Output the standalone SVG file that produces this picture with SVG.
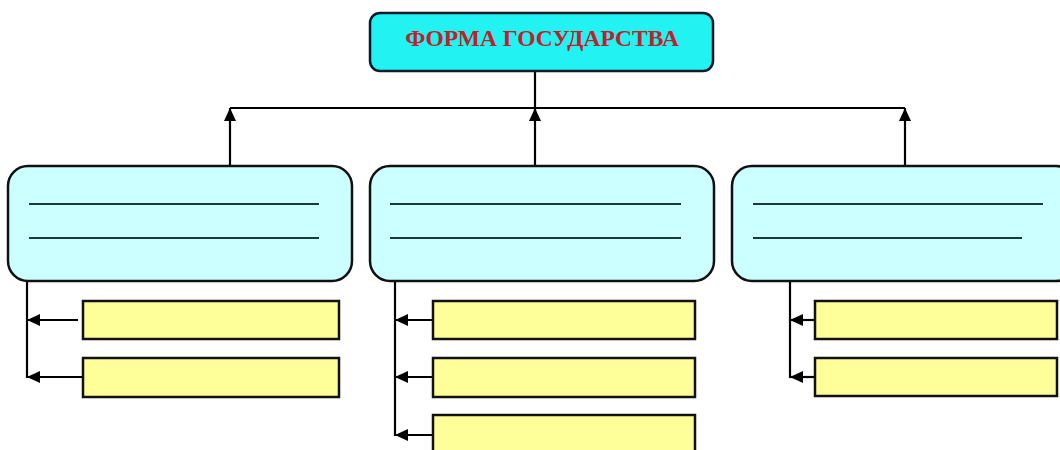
<svg xmlns="http://www.w3.org/2000/svg" width="1060" height="450" viewBox="0 0 1060 450">
<defs>
<marker id="arr" viewBox="0 0 13 12" refX="13" refY="6" markerWidth="13" markerHeight="12" markerUnits="userSpaceOnUse" orient="auto">
<path d="M0,0 L13,6 L0,12 z" fill="#000"/>
</marker>
<style>
.top{fill:#22F2F2;stroke:#0a1a2a;stroke-width:2.5}
.mid{fill:#CCFFFF;stroke:#111;stroke-width:2.5}
.sub{fill:#FFFF99;stroke:#111;stroke-width:2.5}
.rule{stroke:#1a3a3a;stroke-width:2}
.con{stroke:#000;stroke-width:2.2;fill:none}
.title{font-family:"Liberation Serif",serif;font-weight:bold;font-size:23.5px;fill:#C0202A}
</style>
</defs>
<rect width="1060" height="450" fill="#fff"/>
<g id="connectors">
<line class="con" x1="535" y1="71" x2="535" y2="108"/>
<line class="con" x1="230" y1="108" x2="905" y2="108"/>
<line class="con" x1="230" y1="166" x2="230" y2="108" marker-end="url(#arr)"/>
<line class="con" x1="535" y1="166" x2="535" y2="108" marker-end="url(#arr)"/>
<line class="con" x1="905" y1="166" x2="905" y2="108" marker-end="url(#arr)"/>
<line class="con" x1="27" y1="281" x2="27" y2="378"/>
<line class="con" x1="78" y1="320" x2="27" y2="320" marker-end="url(#arr)"/>
<line class="con" x1="83" y1="377" x2="27" y2="377" marker-end="url(#arr)"/>
<line class="con" x1="395" y1="281" x2="395" y2="436"/>
<line class="con" x1="433" y1="320" x2="395" y2="320" marker-end="url(#arr)"/>
<line class="con" x1="433" y1="377" x2="395" y2="377" marker-end="url(#arr)"/>
<line class="con" x1="433" y1="435" x2="395" y2="435" marker-end="url(#arr)"/>
<line class="con" x1="790" y1="281" x2="790" y2="378"/>
<line class="con" x1="815" y1="320" x2="790" y2="320" marker-end="url(#arr)"/>
<line class="con" x1="815" y1="377" x2="790" y2="377" marker-end="url(#arr)"/>
</g>
<g id="root">
<rect class="top" x="370" y="13" width="343" height="58" rx="10"/>
<text class="title" x="542" y="46" text-anchor="middle">ФОРМА ГОСУДАРСТВА</text>
</g>
<g id="mid-left">
<rect class="mid" x="8" y="166" width="344" height="115" rx="20"/>
<line class="rule" x1="29" y1="204" x2="319" y2="204"/>
<line class="rule" x1="29" y1="238" x2="319" y2="238"/>
</g>
<g id="mid-center">
<rect class="mid" x="370" y="166" width="344" height="115" rx="20"/>
<line class="rule" x1="390" y1="204" x2="681" y2="204"/>
<line class="rule" x1="390" y1="238" x2="681" y2="238"/>
</g>
<g id="mid-right">
<rect class="mid" x="732" y="166" width="344" height="115" rx="20"/>
<line class="rule" x1="753" y1="204" x2="1043" y2="204"/>
<line class="rule" x1="753" y1="238" x2="1022" y2="238"/>
</g>
<g id="sub-l1"><rect class="sub" x="83" y="301" width="256" height="38"/></g>
<g id="sub-l2"><rect class="sub" x="83" y="358" width="256" height="39"/></g>
<g id="sub-c1"><rect class="sub" x="433" y="301" width="262" height="38"/></g>
<g id="sub-c2"><rect class="sub" x="433" y="358" width="262" height="39"/></g>
<g id="sub-c3"><rect class="sub" x="433" y="415" width="262" height="40"/></g>
<g id="sub-r1"><rect class="sub" x="815" y="301" width="242" height="38"/></g>
<g id="sub-r2"><rect class="sub" x="815" y="358" width="242" height="38"/></g>
</svg>
